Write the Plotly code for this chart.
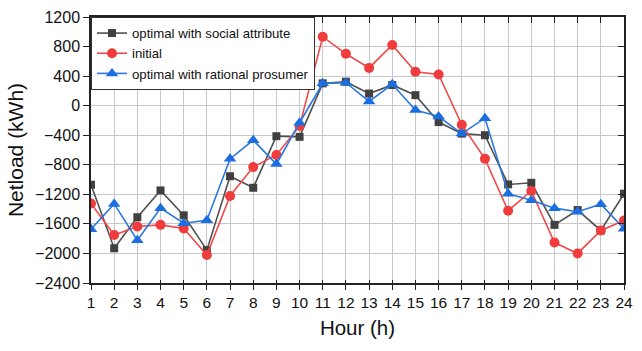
import plotly.graph_objects as go

hours = list(range(1, 25))
social = [-1070, -1930, -1510, -1147, -1484, -1955, -955, -1111, -413, -422, 302, 324,
          164, 280, 142, -222, -378, -400, -1066, -1044, -1613, -1413, -1689, -1191]
initial = [-1324, -1751, -1635, -1613, -1662, -2022, -1222, -831, -667, -275, 933, 702,
           511, 822, 458, 422, -258, -720, -1422, -1155, -1853, -2000, -1689, -1555]
rational = [-1671, -1330, -1822, -1387, -1591, -1550, -720, -467, -791, -231, 302, 311,
            58, 289, -60, -147, -378, -169, -1191, -1280, -1387, -1435, -1333, -1666]
yticks = list(range(-2400, 1201, 400))

FONT = "Liberation Sans, Arial, sans-serif"

fig = go.Figure()
fig.add_trace(go.Scatter(x=hours, y=social, name="optimal with social attribute",
                         mode="lines+markers",
                         line=dict(color="#505050", width=1.6),
                         marker=dict(symbol="square", size=8, color="#404040")))
fig.add_trace(go.Scatter(x=hours, y=initial, name="initial",
                         mode="lines+markers",
                         line=dict(color="#f24848", width=1.6),
                         marker=dict(symbol="circle", size=10, color="#f03c3c")))
fig.add_trace(go.Scatter(x=hours, y=rational, name="optimal with rational prosumer",
                         mode="lines+markers",
                         line=dict(color="#2a78e0", width=1.6),
                         marker=dict(symbol="triangle-up", size=11, color="#1a6ee0")))

fig.update_layout(
    width=642, height=351,
    margin=dict(l=91, r=9, t=13, b=68),
    paper_bgcolor="white", plot_bgcolor="white",
    font=dict(family=FONT, color="#111111"),
    showlegend=True,
    legend=dict(x=0, y=1, xanchor="left", yanchor="top",
                bgcolor="white", bordercolor="#333333", borderwidth=1,
                font=dict(size=13.2, family=FONT, color="#111111"),
                tracegroupgap=0, itemwidth=30),
    xaxis=dict(range=[1, 24], tickmode="array", tickvals=hours,
               ticktext=[str(h) for h in hours],
               showgrid=True, gridcolor="#c8c8c8", gridwidth=1,
               showline=True, linecolor="#222222", linewidth=1.5, mirror=True,
               ticks="outside", ticklen=5, tickcolor="#222222", tickwidth=1.3,
               tickfont=dict(size=15.5, family=FONT),
               title=dict(text="Hour (h)", font=dict(size=20.5, family=FONT), standoff=10),
               zeroline=False),
    yaxis=dict(range=[-2400, 1200], tickmode="array", tickvals=yticks,
               showgrid=True, gridcolor="#c8c8c8", gridwidth=1,
               showline=True, linecolor="#222222", linewidth=1.5, mirror=True,
               ticks="outside", ticklen=6, tickcolor="#222222", tickwidth=1.3,
               tickfont=dict(size=16, family=FONT),
               title=dict(text="Netload (kWh)", font=dict(size=21, family=FONT), standoff=6),
               zeroline=False),
    xaxis2=dict(range=[1, 24], overlaying="x", side="top", tickmode="array", tickvals=hours,
                showticklabels=False, ticks="inside", ticklen=6, tickcolor="#222222",
                tickwidth=1.3, showgrid=False, showline=False, zeroline=False),
    xaxis3=dict(range=[1, 24], overlaying="x", side="bottom", tickmode="array", tickvals=hours,
                showticklabels=False, ticks="inside", ticklen=3, tickcolor="#222222",
                tickwidth=1.3, showgrid=False, showline=False, zeroline=False),
    yaxis2=dict(range=[-2400, 1200], overlaying="y", side="right", tickmode="array",
                tickvals=yticks, showticklabels=False, ticks="inside", ticklen=6,
                tickcolor="#222222", tickwidth=1.3, showgrid=False, showline=False,
                zeroline=False),
)
# invisible helper traces so overlay axes are drawn
fig.add_trace(go.Scatter(x=[1], y=[-2400], xaxis="x2", yaxis="y2", mode="markers",
                         marker=dict(opacity=0), showlegend=False, hoverinfo="skip"))
fig.add_trace(go.Scatter(x=[1], y=[-2400], xaxis="x3", yaxis="y", mode="markers",
                         marker=dict(opacity=0), showlegend=False, hoverinfo="skip"))

fig.write_html("out.html")
